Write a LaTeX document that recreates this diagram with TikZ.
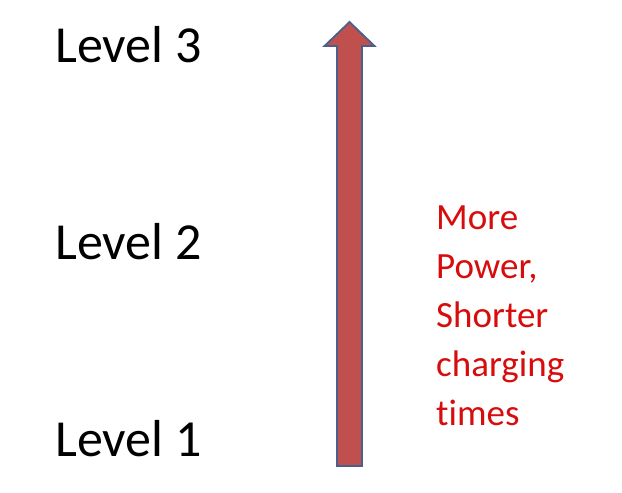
\documentclass[tikz,border=0pt]{standalone}
\usepackage{fontspec}
\setmainfont[Ligatures=NoCommon]{Carlito}
\usepackage{tikz}

\definecolor{arrowfill}{HTML}{C0504D}
\definecolor{arrowline}{HTML}{4A5F8A}
\definecolor{notered}{RGB}{215,12,12}

\begin{document}
\begin{tikzpicture}[x=1pt, y=1pt,
    levelbox/.style={inner sep=0pt, anchor=base west, font=\fontsize{52}{62}\selectfont},
    notebox/.style={inner sep=0pt, anchor=base west, align=left, text=notered, font=\fontsize{37}{49}\selectfont}]
      % Fix the page to the reference size
      \useasboundingbox (0,0) rectangle (622,493);

      % Define arrow corners
      \coordinate (tip) at (349.5,471);
      \coordinate (wingL) at (324.5,447);
      \coordinate (wingR) at (374.5,447);
      \coordinate (shaftTL) at (337,447);
      \coordinate (shaftTR) at (362,447);
      \coordinate (shaftBL) at (337,27);
      \coordinate (shaftBR) at (362,27);

      % Draw the big upward arrow
      \draw[fill=arrowfill, draw=arrowline, line width=1.8pt, line join=miter]
        (tip) -- (wingR) -- (shaftTR) -- (shaftBR) -- (shaftBL) -- (shaftTL) -- (wingL) -- cycle;

      % Level labels on the left
      \node[levelbox] (lvlthree) at (55,430) {Level 3};
      \node[levelbox] (lvltwo) at (55,233) {Level 2};
      \node[levelbox] (lvlone) at (55,36) {Level 1};

      % Red note on the right (base anchor sits on the last line)
      \node[notebox] (note) at (436,67) {More\\Power,\\Shorter\\charging\\times};

\end{tikzpicture}
\end{document}
